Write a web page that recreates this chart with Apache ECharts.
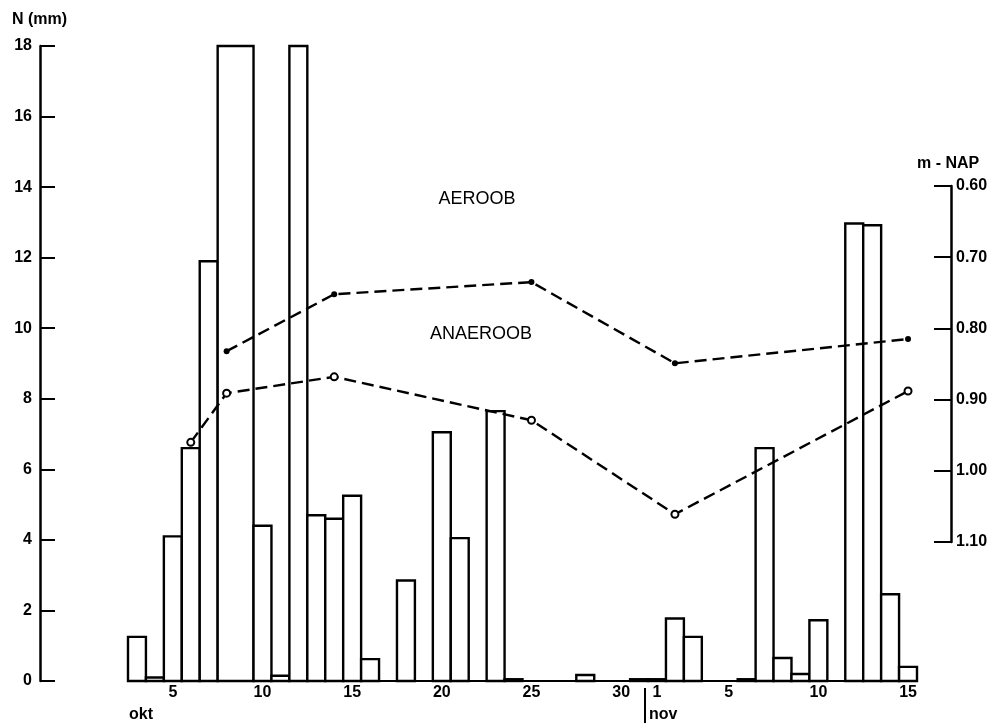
<!DOCTYPE html>
<html>
<head>
<meta charset="utf-8">
<script src="https://cdn.jsdelivr.net/npm/echarts@6/dist/echarts.min.js"></script>
<style>
html, body { margin: 0; padding: 0; background: #fff; }
#chart { width: 999px; height: 727px; }
</style>
</head>
<body>
<div id="chart"></div>
<script>
// daily precipitation, 3 okt - 15 nov
const days = [
	'okt-3', 'okt-4', 'okt-5', 'okt-6', 'okt-7', 'okt-8', 'okt-9', 'okt-10', 'okt-11', 'okt-12',
	'okt-13', 'okt-14', 'okt-15', 'okt-16', 'okt-17', 'okt-18', 'okt-19', 'okt-20', 'okt-21', 'okt-22',
	'okt-23', 'okt-24', 'okt-25', 'okt-26', 'okt-27', 'okt-28', 'okt-29', 'okt-30', 'okt-31',
	'nov-1', 'nov-2', 'nov-3', 'nov-4', 'nov-5', 'nov-6', 'nov-7', 'nov-8', 'nov-9', 'nov-10',
	'nov-11', 'nov-12', 'nov-13', 'nov-14', 'nov-15'
];
const rainMm = [
	1.25, 0.1, 4.1, 6.6, 11.9, 18, null, 4.4, 0.15, 18,
	4.7, 4.6, 5.25, 0.62, 0, 2.85, 0, 7.05, 4.05, 0,
	7.65, 0.05, 0, 0, 0, 0.17, 0, 0, 0.05,
	0.05, 1.77, 1.25, 0, 0, 0.05, 6.6, 0.65, 0.2, 1.72,
	0, 12.97, 12.92, 2.46, 0.4
];
// okt 8 and 9 were drawn as one box
const twoDayBar = 'okt-8';
const labelDays = ['okt-5', 'okt-10', 'okt-15', 'okt-20', 'okt-25', 'okt-30', 'nov-1', 'nov-5', 'nov-10', 'nov-15'];

// ground water level (m - NAP)
const aeroobDays = ['okt-8', 'okt-14', 'okt-25', 'nov-2', 'nov-15'];
const aeroobLevel = [0.832, 0.752, 0.735, 0.849, 0.815];
const anaeroobDays = ['okt-6', 'okt-8', 'okt-14', 'okt-25', 'nov-2', 'nov-15'];
const anaeroobLevel = [0.960, 0.891, 0.868, 0.929, 1.061, 0.888];

const font = "'Liberation Sans', Arial, sans-serif";
const numStyle = {color: '#000', fontFamily: font, fontWeight: 'bold', fontSize: 16};

const rainData = [];
days.forEach((d, i) => {
	const v = rainMm[i];
	if (v) rainData.push([d, v, d === twoDayBar ? 2 : 1]);
});

const chart = echarts.init(document.getElementById('chart'), null, {renderer: 'canvas'});

chart.setOption({
	animation: false,
	backgroundColor: '#fff',
	grid: [
		{left: 128, right: 82, top: 46, bottom: 46},
		{left: 128, right: 82, top: 186, bottom: 185}
	],
	xAxis: [
		{
			gridIndex: 0,
			type: 'category',
			data: days,
			axisLine: {lineStyle: {color: '#000', width: 2}},
			axisTick: {show: false},
			axisLabel: Object.assign({
				margin: 4,
				interval: (i, v) => labelDays.includes(v),
				formatter: v => v.split('-')[1]
			}, numStyle),
			splitLine: {show: false}
		},
		{
			gridIndex: 1,
			type: 'category',
			data: days,
			show: false
		}
	],
	yAxis: [
		{
			gridIndex: 0,
			type: 'value',
			min: 0,
			max: 18,
			interval: 2,
			offset: 88,
			axisLine: {show: true, lineStyle: {color: '#000', width: 2.5}},
			axisTick: {show: true, inside: true, length: 15, lineStyle: {color: '#000', width: 2}},
			axisLabel: Object.assign({margin: 8}, numStyle),
			splitLine: {show: false}
		},
		{
			gridIndex: 1,
			type: 'value',
			position: 'right',
			inverse: true,
			min: 0.6,
			max: 1.1,
			interval: 0.1,
			offset: 34,
			axisLine: {show: true, lineStyle: {color: '#000', width: 2.5}},
			axisTick: {show: true, inside: true, length: 17, lineStyle: {color: '#000', width: 2}},
			axisLabel: Object.assign({margin: 5, formatter: v => v.toFixed(2)}, numStyle),
			splitLine: {show: false}
		}
	],
	series: [
		{
			name: 'N',
			type: 'custom',
			xAxisIndex: 0,
			yAxisIndex: 0,
			data: rainData,
			encode: {x: 0, y: 1},
			z: 2,
			renderItem: (params, api) => {
				const idx = api.value(0);
				const base = api.coord([idx, 0]);
				const top = api.coord([idx, api.value(1)]);
				const w = api.size([1, 0])[0];
				return {
					type: 'rect',
					shape: {x: base[0] - w / 2, y: top[1], width: w * api.value(2), height: base[1] - top[1]},
					style: {fill: '#fff', stroke: '#000', lineWidth: 2.4}
				};
			}
		},
		{
			name: 'AEROOB',
			type: 'line',
			xAxisIndex: 1,
			yAxisIndex: 1,
			data: aeroobDays.map((d, i) => [d, aeroobLevel[i]]),
			symbol: 'circle',
			symbolSize: 6,
			itemStyle: {color: '#000'},
			lineStyle: {color: '#000', width: 2.4, type: [12, 6]},
			z: 5
		},
		{
			name: 'ANAEROOB',
			type: 'line',
			xAxisIndex: 1,
			yAxisIndex: 1,
			data: anaeroobDays.map((d, i) => [d, anaeroobLevel[i]]),
			symbol: 'emptyCircle',
			symbolSize: 7,
			itemStyle: {color: '#000', borderWidth: 1.8},
			lineStyle: {color: '#000', width: 2.4, type: [12, 6]},
			z: 5
		}
	],
	graphic: [
		{type: 'text', left: 12, top: 12, style: {text: 'N (mm)', fill: '#000', font: 'bold 16px ' + font}},
		{type: 'text', left: 917, top: 156, style: {text: 'm - NAP', fill: '#000', font: 'bold 16px ' + font}},
		{type: 'text', x: 477, y: 199, style: {text: 'AEROOB', fill: '#000', font: '18px ' + font, align: 'center', verticalAlign: 'middle'}},
		{type: 'text', x: 481, y: 334, style: {text: 'ANAEROOB', fill: '#000', font: '18px ' + font, align: 'center', verticalAlign: 'middle'}},
		{type: 'text', x: 129, y: 715, style: {text: 'okt', fill: '#000', font: 'bold 16px ' + font, verticalAlign: 'middle'}},
		{type: 'text', x: 649, y: 715, style: {text: 'nov', fill: '#000', font: 'bold 16px ' + font, verticalAlign: 'middle'}},
		{type: 'line', shape: {x1: 645, y1: 688, x2: 645, y2: 723}, style: {stroke: '#000', lineWidth: 2}}
	]
});
</script>
</body>
</html>
